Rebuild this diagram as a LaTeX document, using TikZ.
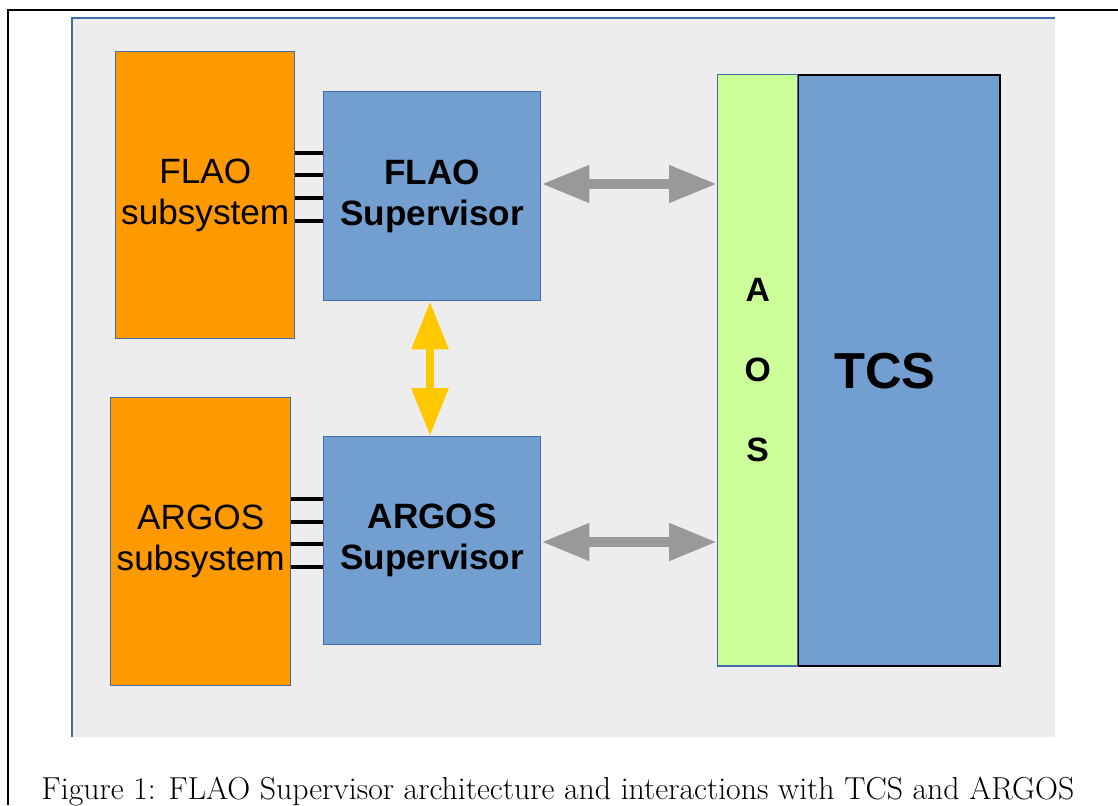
\documentclass[tikz,border=0pt]{standalone}
\usepackage{fontspec}
\setsansfont{Liberation Sans}
\usetikzlibrary{arrows.meta}
\usepackage{xcolor}

\begin{document}
\begin{tikzpicture}[x=0.025cm,y=-0.025cm,
  boite/.style={draw=bordA,line width=1pt,inner sep=0pt,anchor=north west,
    font=\sffamily\fontsize{25}{29}\selectfont,align=center},
  fleche/.style={line width=7pt,
    {Triangle[width=25pt,length=34pt]}-{Triangle[width=25pt,length=34pt]}}]

% Couleurs
\definecolor{fond}{HTML}{EDEDED}
\definecolor{bordA}{HTML}{3E6DAA}
\definecolor{orangeA}{HTML}{FF9900}
\definecolor{bleuA}{HTML}{729FCF}
\definecolor{vertA}{HTML}{CCFF99}
\definecolor{grisF}{HTML}{999999}
\definecolor{jauneF}{HTML}{FFC800}

\useasboundingbox (0,0) rectangle (1118,805);

% Cadre exterieur
\draw[line width=0.8pt] (8,805) -- (8,10) -- (1118,10);

% Panneau gris
\fill[fond] (72,18) rectangle (1055,737);
\draw[bordA,line width=1pt] (72,737) -- (72,18) -- (1055,18);

% Sous-systemes
\node[boite,fill=orangeA,minimum width=4.475cm,minimum height=7.175cm]
  (flaoSub) at (115,51) {FLAO\\subsystem};
\node[boite,fill=orangeA,minimum width=4.5cm,minimum height=7.2cm]
  (argosSub) at (110,397) {ARGOS\\subsystem};

% Superviseurs
\node[boite,fill=bleuA,font=\sffamily\bfseries\fontsize{25}{29}\selectfont,
  minimum width=5.425cm,minimum height=5.225cm]
  (flaoSup) at (323,91) {FLAO\\Supervisor};
\node[boite,fill=bleuA,font=\sffamily\bfseries\fontsize{25}{29}\selectfont,
  minimum width=5.425cm,minimum height=5.2cm]
  (argosSup) at (323,436) {ARGOS\\Supervisor};

% AOS et TCS
\node[boite,fill=bleuA,draw=black,line width=1.6pt,
  minimum width=5.05cm,minimum height=14.775cm] (tcs) at (797,74) {};
\node[boite,fill=vertA,minimum width=2cm,minimum height=14.775cm,
  font=\sffamily\bfseries\fontsize{24}{57}\selectfont] (aos) at (717,74) {A\\O\\S};
\node[font=\sffamily\bfseries\fontsize{36}{40}\selectfont] (tcsLab) at (885,371) {TCS};

% Liaisons
\foreach \y in {153,175,198,221}
  \draw[line width=2.2pt] (flaoSub.east |- 0,\y) -- (flaoSup.west |- 0,\y);
\foreach \y in {499,522,544,567}
  \draw[line width=2.2pt] (argosSub.east |- 0,\y) -- (argosSup.west |- 0,\y);

% Fleches
\draw[fleche,grisF] (flaoSup.east |- 0,184) -- (aos.west |- 0,184);
\draw[fleche,grisF] (argosSup.east |- 0,542) -- (aos.west |- 0,542);
\draw[fleche,jauneF,line width=6pt] (flaoSup.south -| 430,0) -- (argosSup.north -| 430,0);

% Legende
\node[anchor=base,font=\fontsize{22.6}{26}\selectfont] (legende) at (558,799)
  {Figure 1: FLAO Supervisor architecture and interactions with TCS and ARGOS};

\end{tikzpicture}
\end{document}
